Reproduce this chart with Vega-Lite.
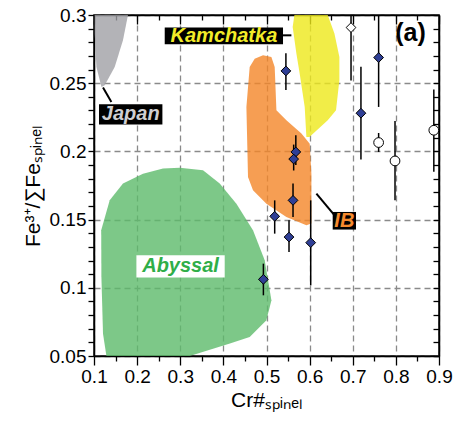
{
  "$schema": "https://vega.github.io/schema/vega-lite/v6.json",
  "width": 345,
  "height": 341,
  "autosize": "none",
  "padding": {"left": 94, "top": 15, "right": 18, "bottom": 65},
  "background": "white",
  "config": {
    "view": {"stroke": "black", "strokeWidth": 1.5},
    "axis": {"labelFont": "Liberation Sans", "titleFont": "Liberation Sans", "domainColor": "black", "domainWidth": 1.5, "tickColor": "black", "tickWidth": 1.3, "labelColor": "black", "titleColor": "black", "titleFontWeight": "normal"}
  },
  "datasets": {
    "shapes": [
      {"s": "Abyssal", "i": 1, "x": 0.26, "y": 0.1874},
      {"s": "Abyssal", "i": 2, "x": 0.2987, "y": 0.1881},
      {"s": "Abyssal", "i": 3, "x": 0.3528, "y": 0.1861},
      {"s": "Abyssal", "i": 4, "x": 0.3915, "y": 0.1764},
      {"s": "Abyssal", "i": 5, "x": 0.4302, "y": 0.1617},
      {"s": "Abyssal", "i": 6, "x": 0.4687, "y": 0.1422},
      {"s": "Abyssal", "i": 7, "x": 0.4958, "y": 0.1202},
      {"s": "Abyssal", "i": 8, "x": 0.5114, "y": 0.0909},
      {"s": "Abyssal", "i": 9, "x": 0.4998, "y": 0.0762},
      {"s": "Abyssal", "i": 10, "x": 0.461, "y": 0.0639},
      {"s": "Abyssal", "i": 11, "x": 0.4151, "y": 0.0591},
      {"s": "Abyssal", "i": 12, "x": 0.322, "y": 0.05},
      {"s": "Abyssal", "i": 13, "x": 0.1288, "y": 0.05},
      {"s": "Abyssal", "i": 14, "x": 0.1209, "y": 0.0664},
      {"s": "Abyssal", "i": 15, "x": 0.1172, "y": 0.1079},
      {"s": "Abyssal", "i": 16, "x": 0.1167, "y": 0.1422},
      {"s": "Abyssal", "i": 17, "x": 0.1364, "y": 0.1642},
      {"s": "Abyssal", "i": 18, "x": 0.1672, "y": 0.1764},
      {"s": "Abyssal", "i": 19, "x": 0.2136, "y": 0.1837},
      {"s": "IB", "i": 1, "x": 0.4726, "y": 0.268},
      {"s": "IB", "i": 2, "x": 0.4919, "y": 0.2705},
      {"s": "IB", "i": 3, "x": 0.5113, "y": 0.2692},
      {"s": "IB", "i": 4, "x": 0.519, "y": 0.2619},
      {"s": "IB", "i": 5, "x": 0.523, "y": 0.2301},
      {"s": "IB", "i": 6, "x": 0.5461, "y": 0.2228},
      {"s": "IB", "i": 7, "x": 0.581, "y": 0.2131},
      {"s": "IB", "i": 8, "x": 0.6002, "y": 0.2057},
      {"s": "IB", "i": 9, "x": 0.6041, "y": 0.1837},
      {"s": "IB", "i": 10, "x": 0.6041, "y": 0.1471},
      {"s": "IB", "i": 11, "x": 0.5925, "y": 0.1458},
      {"s": "IB", "i": 12, "x": 0.5461, "y": 0.1519},
      {"s": "IB", "i": 13, "x": 0.4998, "y": 0.1617},
      {"s": "IB", "i": 14, "x": 0.4687, "y": 0.1715},
      {"s": "IB", "i": 15, "x": 0.4571, "y": 0.1812},
      {"s": "IB", "i": 16, "x": 0.4534, "y": 0.2326},
      {"s": "IB", "i": 17, "x": 0.461, "y": 0.2619},
      {"s": "Kamchatka", "i": 1, "x": 0.5647, "y": 0.3},
      {"s": "Kamchatka", "i": 2, "x": 0.642, "y": 0.3},
      {"s": "Kamchatka", "i": 3, "x": 0.6575, "y": 0.2864},
      {"s": "Kamchatka", "i": 4, "x": 0.669, "y": 0.2692},
      {"s": "Kamchatka", "i": 5, "x": 0.669, "y": 0.2521},
      {"s": "Kamchatka", "i": 6, "x": 0.6612, "y": 0.2301},
      {"s": "Kamchatka", "i": 7, "x": 0.642, "y": 0.2228},
      {"s": "Kamchatka", "i": 8, "x": 0.5995, "y": 0.2106},
      {"s": "Kamchatka", "i": 9, "x": 0.5925, "y": 0.2106},
      {"s": "Kamchatka", "i": 10, "x": 0.5886, "y": 0.2326},
      {"s": "Kamchatka", "i": 11, "x": 0.577, "y": 0.257},
      {"s": "Kamchatka", "i": 12, "x": 0.5693, "y": 0.2717},
      {"s": "Kamchatka", "i": 13, "x": 0.5607, "y": 0.2912},
      {"s": "Japan", "i": 1, "x": 0.1016, "y": 0.3},
      {"s": "Japan", "i": 2, "x": 0.1788, "y": 0.3},
      {"s": "Japan", "i": 3, "x": 0.1672, "y": 0.2815},
      {"s": "Japan", "i": 4, "x": 0.148, "y": 0.2619},
      {"s": "Japan", "i": 5, "x": 0.1248, "y": 0.2485},
      {"s": "Japan", "i": 6, "x": 0.1172, "y": 0.2472},
      {"s": "Japan", "i": 7, "x": 0.1056, "y": 0.2619},
      {"s": "Japan", "i": 8, "x": 0.1016, "y": 0.2864}
    ],
    "labels": [
      {"label": "Kamchatka", "x": 0.4012, "y": 0.2847, "bx1": 0.264, "bx2": 0.5383, "by1": 0.2785, "by2": 0.2908},
      {"label": "Japan", "x": 0.1851, "y": 0.2272, "bx1": 0.1116, "bx2": 0.2586, "by1": 0.2198, "by2": 0.2345},
      {"label": "IB", "x": 0.6805, "y": 0.1492, "bx1": 0.6535, "bx2": 0.7075, "by1": 0.1427, "by2": 0.1556},
      {"label": "Abyssal", "x": 0.3007, "y": 0.1157, "bx1": 0.1983, "bx2": 0.4031, "by1": 0.1075, "by2": 0.1238}
    ],
    "leaders": [
      {"x": 0.1209, "y": 0.2468, "x2": 0.1403, "y2": 0.2362},
      {"x": 0.5383, "y": 0.2851, "x2": 0.5577, "y2": 0.2851},
      {"x": 0.6157, "y": 0.1691, "x2": 0.6574, "y2": 0.1532}
    ],
    "pts": [
      {"type": "blue", "x": 0.545, "y": 0.259, "lo": 0.245, "hi": 0.272},
      {"type": "blue", "x": 0.76, "y": 0.2688, "lo": 0.2326, "hi": 0.3},
      {"type": "blue", "x": 0.719, "y": 0.228, "lo": 0.194, "hi": 0.262},
      {"type": "blue", "x": 0.568, "y": 0.1996, "lo": 0.19, "hi": 0.2118},
      {"type": "blue", "x": 0.563, "y": 0.1944, "lo": 0.186, "hi": 0.205},
      {"type": "blue", "x": 0.5615, "y": 0.1641, "lo": 0.1519, "hi": 0.1764},
      {"type": "blue", "x": 0.519, "y": 0.1524, "lo": 0.1397, "hi": 0.1641},
      {"type": "blue", "x": 0.5522, "y": 0.1372, "lo": 0.1262, "hi": 0.1495},
      {"type": "blue", "x": 0.6025, "y": 0.1331, "lo": 0.1018, "hi": 0.1641},
      {"type": "blue", "x": 0.4928, "y": 0.1062, "lo": 0.0945, "hi": 0.1177},
      {"type": "open diamond", "x": 0.696, "y": 0.2908, "lo": 0.252, "hi": 0.3},
      {"type": "open circle", "x": 0.76, "y": 0.2065, "lo": 0.1996, "hi": 0.2135},
      {"type": "open circle", "x": 0.798, "y": 0.193, "lo": 0.1641, "hi": 0.2223},
      {"type": "open circle", "x": 0.888, "y": 0.2155, "lo": 0.185, "hi": 0.2453}
    ]
  },
  "resolve": {
    "axis": {"x": "independent", "y": "independent"},
    "scale": {"fill": "independent", "color": "independent", "shape": "independent", "size": "independent"}
  },
  "layer": [
    {
      "data": {"name": "shapes"},
      "mark": {"type": "line", "strokeWidth": 0, "fillOpacity": 0.8},
      "encoding": {
        "x": {"field": "x", "type": "quantitative", "scale": {"domain": [0.1, 0.9], "nice": false, "zero": false}, "axis": null},
        "y": {"field": "y", "type": "quantitative", "scale": {"domain": [0.05, 0.3], "nice": false, "zero": false}, "axis": null},
        "detail": {"field": "s"},
        "order": {"field": "i", "type": "quantitative"},
        "fill": {"field": "s", "type": "nominal", "legend": null,
          "scale": {"domain": ["Abyssal", "IB", "Kamchatka", "Japan"], "range": ["#5cba6a", "#f48628", "#eee91a", "#a0a0a5"]}}
      }
    },
    {
      "data": {"name": "leaders"},
      "mark": {"type": "rule", "strokeWidth": 2, "color": "black"},
      "encoding": {
        "x": {"field": "x", "type": "quantitative", "axis": null},
        "y": {"field": "y", "type": "quantitative", "axis": null},
        "x2": {"field": "x2"},
        "y2": {"field": "y2"}
      }
    },
    {
      "data": {"name": "labels"},
      "mark": {"type": "rect"},
      "encoding": {
        "x": {"field": "bx1", "type": "quantitative", "axis": null},
        "x2": {"field": "bx2"},
        "y": {"field": "by1", "type": "quantitative", "axis": null},
        "y2": {"field": "by2"},
        "fill": {"field": "label", "type": "nominal", "legend": null,
          "scale": {"domain": ["Kamchatka", "Japan", "IB", "Abyssal"], "range": ["black", "black", "black", "white"]}}
      }
    },
    {
      "data": {"name": "labels"},
      "mark": {"type": "text", "fontStyle": "italic", "fontWeight": "bold", "fontSize": 20, "align": "center", "baseline": "middle", "font": "Liberation Sans"},
      "encoding": {
        "x": {"field": "x", "type": "quantitative", "axis": null},
        "y": {"field": "y", "type": "quantitative", "axis": null},
        "text": {"field": "label"},
        "color": {"field": "label", "type": "nominal", "legend": null,
          "scale": {"domain": ["Kamchatka", "Japan", "IB", "Abyssal"], "range": ["#f2ec28", "#cfcfd2", "#f58a2e", "#2fae48"]}}
      }
    },
    {
      "data": {"name": "pts"},
      "mark": {"type": "rule", "strokeWidth": 1.5, "color": "black"},
      "encoding": {
        "x": {"field": "x", "type": "quantitative", "axis": null},
        "y": {"field": "lo", "type": "quantitative", "axis": null},
        "y2": {"field": "hi"}
      }
    },
    {
      "data": {"name": "pts"},
      "mark": {"type": "point", "filled": true, "stroke": "black", "strokeWidth": 1, "opacity": 1},
      "encoding": {
        "x": {"field": "x", "type": "quantitative",
          "axis": {"orient": "bottom", "title": "Cr#ₛₚᵢₙₑₗ", "titleFontSize": 21, "titlePadding": 3,
            "values": [0.1, 0.15, 0.2, 0.25, 0.3, 0.35, 0.4, 0.45, 0.5, 0.55, 0.6, 0.65, 0.7, 0.75, 0.8, 0.85, 0.9],
            "labelExpr": "abs(datum.value*10 - round(datum.value*10)) < 0.001 ? format(datum.value, '.1f') : ''",
            "labelFontSize": 19, "labelFlush": false, "labelOverlap": false,
            "tickSize": 9,
            "tickDash": {"condition": {"test": "abs(datum.value*10 - round(datum.value*10)) < 0.001", "value": [1, 0]}, "value": [5, 50]},
            "grid": true, "gridColor": "#8a8a8a", "gridDash": [6, 4], "gridWidth": 1.3,
            "gridOpacity": {"condition": {"test": "abs(datum.value*10 - round(datum.value*10)) < 0.001", "value": 1}, "value": 0}}},
        "y": {"field": "y", "type": "quantitative",
          "axis": {"orient": "left", "title": "Fe³⁺/∑Feₛₚᵢₙₑₗ", "titleFontSize": 21, "titlePadding": 6,
            "values": [0.05, 0.06, 0.07, 0.08, 0.09, 0.1, 0.11, 0.12, 0.13, 0.14, 0.15, 0.16, 0.17, 0.18, 0.19, 0.2, 0.21, 0.22, 0.23, 0.24, 0.25, 0.26, 0.27, 0.28, 0.29, 0.3],
            "labelExpr": "abs(datum.value*20 - round(datum.value*20)) < 0.001 ? format(datum.value, '.2~f') : ''",
            "labelFontSize": 19, "labelFlush": false, "labelOverlap": false,
            "tickSize": 6,
            "grid": true, "gridColor": "#8a8a8a", "gridDash": [6, 4], "gridWidth": 1.3,
            "gridOpacity": {"condition": {"test": "abs(datum.value*20 - round(datum.value*20)) < 0.001", "value": 1}, "value": 0}}},
        "shape": {"field": "type", "type": "nominal", "legend": null,
          "scale": {"domain": ["blue", "open diamond", "open circle"], "range": ["diamond", "diamond", "circle"]}},
        "fill": {"field": "type", "type": "nominal", "legend": null,
          "scale": {"domain": ["blue", "open diamond", "open circle"], "range": ["#2f3f96", "white", "white"]}},
        "size": {"field": "type", "type": "nominal", "legend": null,
          "scale": {"domain": ["blue", "open diamond", "open circle"], "range": [95, 95, 75]}}
      }
    },
    {
      "data": {"values": [{"t": "(a)", "x": 0.834, "y": 0.2866}]},
      "mark": {"type": "text", "fontWeight": "bold", "fontSize": 25, "align": "center", "baseline": "middle", "font": "Liberation Sans"},
      "encoding": {
        "x": {"field": "x", "type": "quantitative",
          "axis": {"orient": "top", "title": null, "labels": false, "grid": false, "tickSize": -9,
            "values": [0.1, 0.15, 0.2, 0.25, 0.3, 0.35, 0.4, 0.45, 0.5, 0.55, 0.6, 0.65, 0.7, 0.75, 0.8, 0.85, 0.9],
            "tickDash": {"condition": {"test": "abs(datum.value*10 - round(datum.value*10)) < 0.001", "value": [1, 0]}, "value": [5, 50]}}},
        "y": {"field": "y", "type": "quantitative",
          "axis": {"orient": "right", "title": null, "labels": false, "grid": false, "tickSize": -6,
            "values": [0.05, 0.06, 0.07, 0.08, 0.09, 0.1, 0.11, 0.12, 0.13, 0.14, 0.15, 0.16, 0.17, 0.18, 0.19, 0.2, 0.21, 0.22, 0.23, 0.24, 0.25, 0.26, 0.27, 0.28, 0.29, 0.3]}},
        "text": {"field": "t"}
      }
    }
  ]
}
